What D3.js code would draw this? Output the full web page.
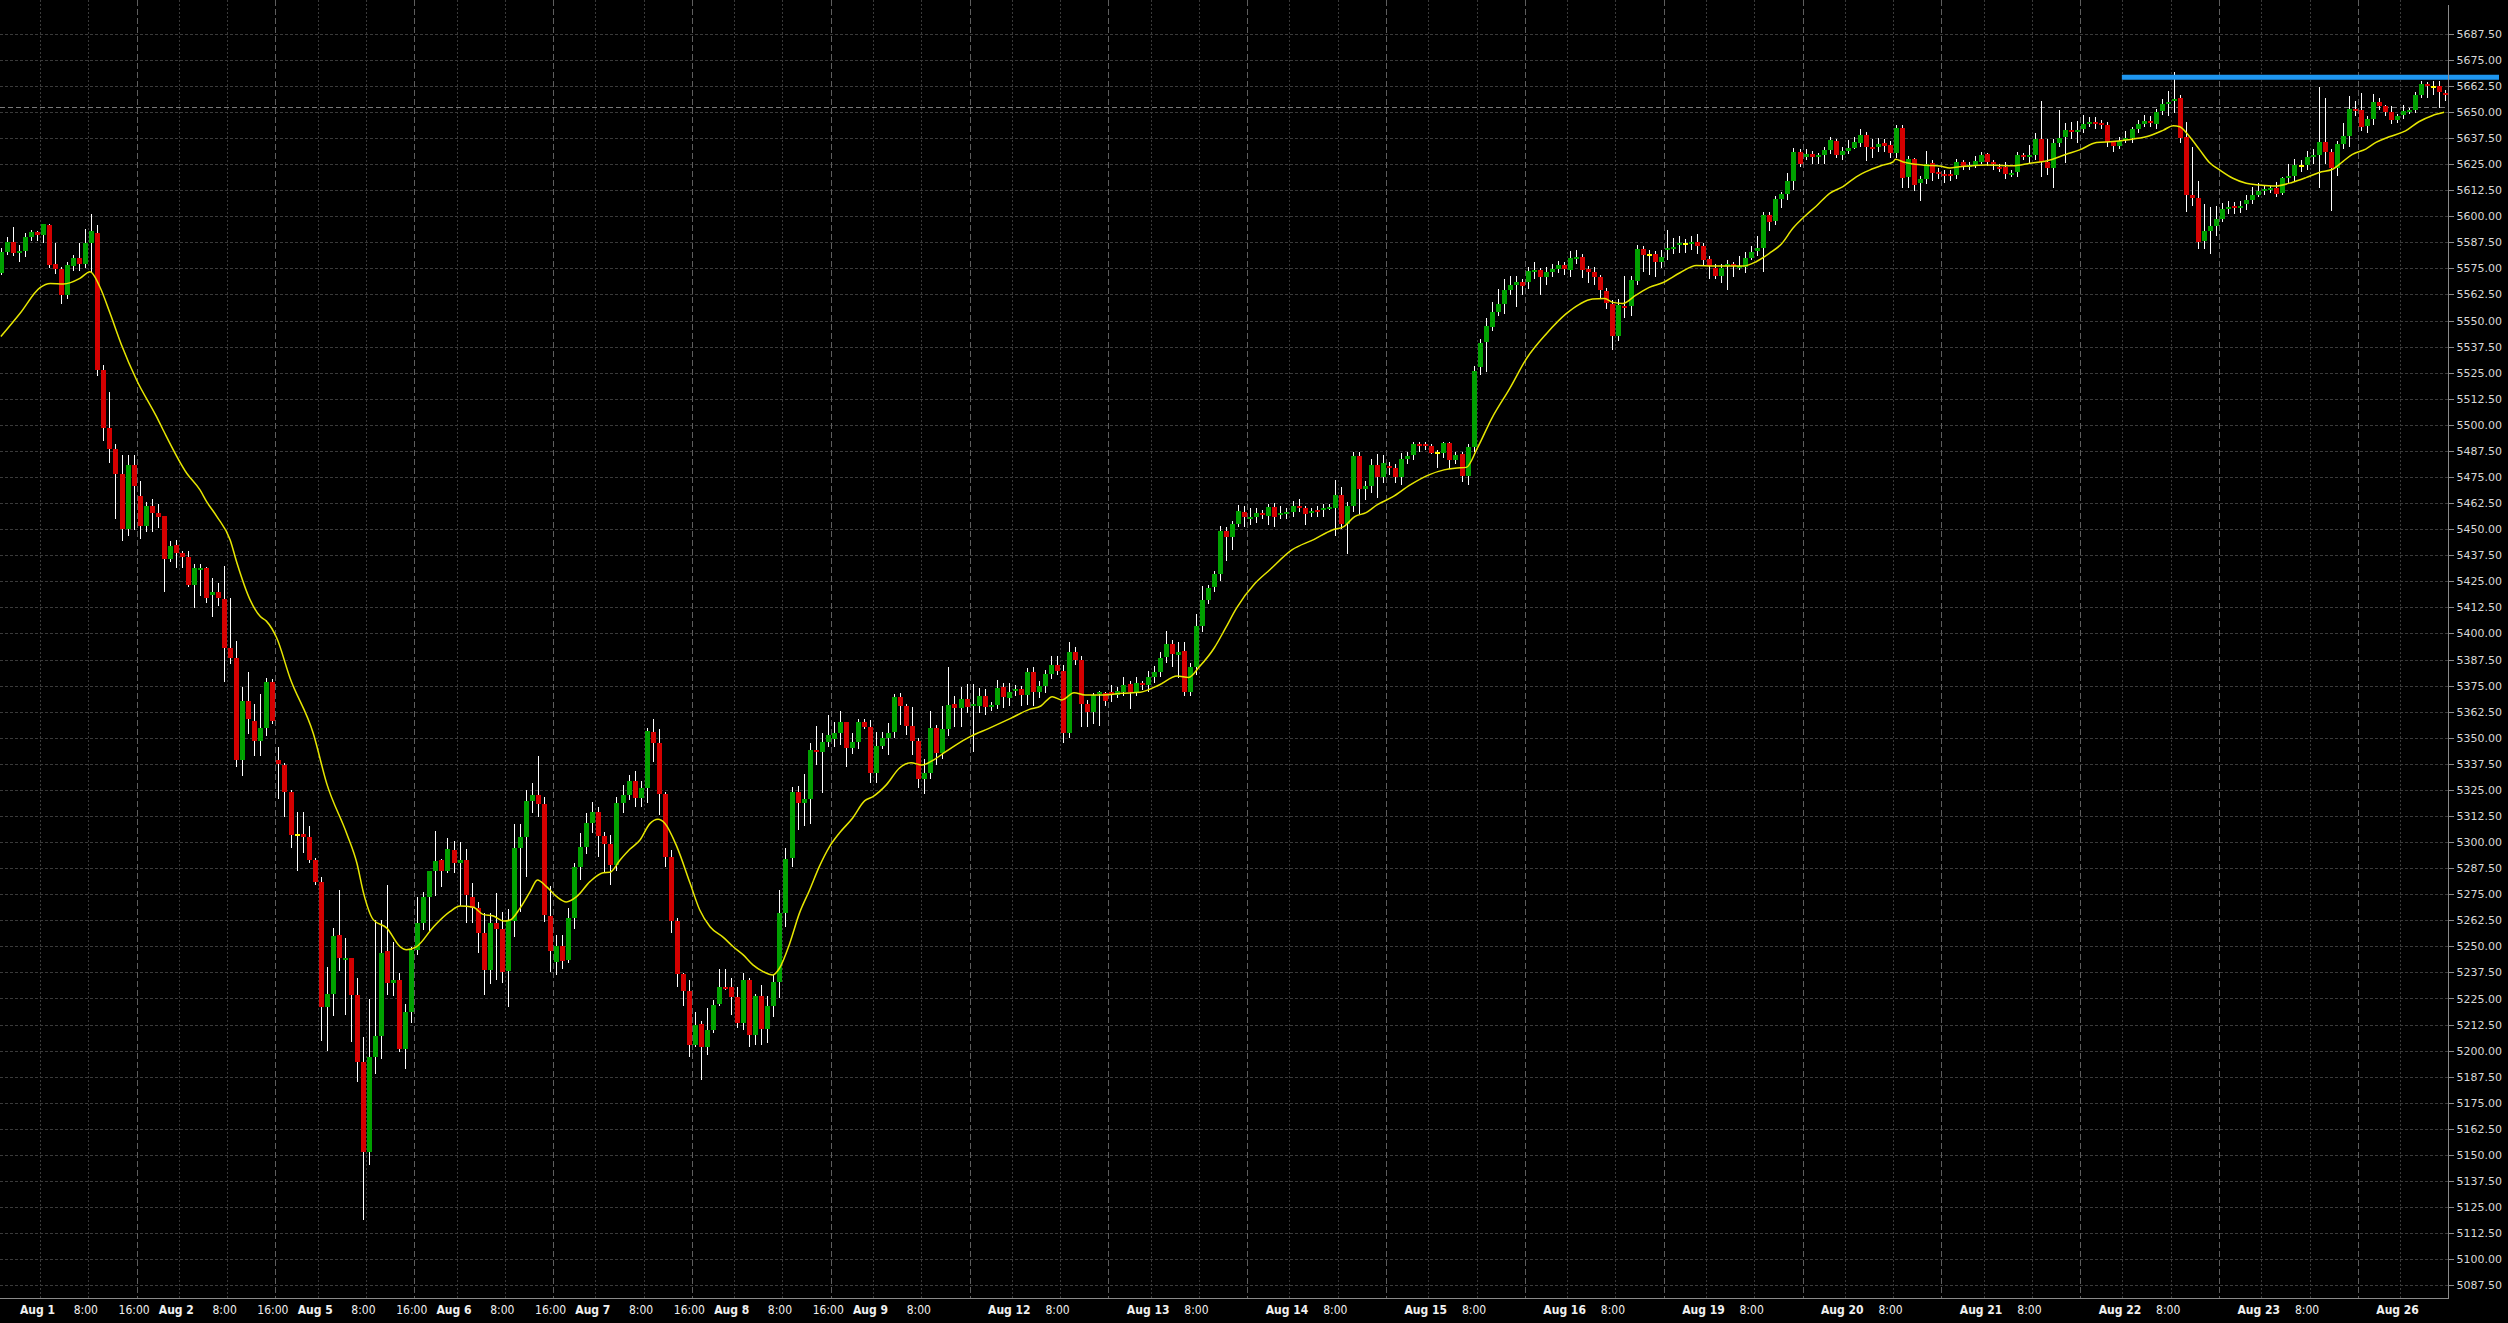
<!DOCTYPE html>
<html><head><meta charset="utf-8">
<script src="https://cdn.jsdelivr.net/npm/d3@7"></script>
<style>
html,body{margin:0;padding:0;background:#000;overflow:hidden}
svg{display:block}
.xl{font-family:"DejaVu Sans Condensed","DejaVu Sans",sans-serif;font-stretch:condensed;font-size:12px}
.yl{font-family:"DejaVu Sans",Verdana,sans-serif;font-size:11px}
</style>
</head><body>
<svg id="c" width="2508" height="1323"></svg>
<script>
// ---------- DATA (hourly candles, Jul 31 18:00 -> Aug 26 8:00) ----------
const open=[
5572.9,5583.0,5587.6,5582.5,5583.3,5590.2,5592.6,5591.2,5595.8,5577.1,
5574.7,5562.3,5576.3,5580.1,5577.1,5587.3,5592.1,5526.3,5498.6,5488.4,
5476.4,5450.1,5480.7,5465.9,5451.7,5461.1,5457.6,5456.3,5435.7,5442.4,
5438.4,5436.5,5423.4,5430.6,5431.3,5418.6,5419.9,5416.4,5393.1,5388.4,
5339.1,5367.7,5358.2,5348.3,5354.7,5376.6,5339.1,5336.9,5323.8,5303.5,
5303.8,5302.5,5291.4,5280.9,5220.8,5227.2,5255.5,5243.3,5244.3,5226.9,
5194.4,5151.5,5197.0,5207.1,5247.9,5232.6,5233.8,5200.9,5218.7,5248.3,
5261.3,5273.8,5286.1,5291.4,5286.1,5296.2,5289.8,5291.4,5273.8,5268.2,
5256.6,5238.7,5261.3,5258.3,5238.2,5262.1,5297.3,5302.6,5319.8,5322.6,
5318.2,5264.5,5242.7,5250.2,5243.5,5263.4,5288.2,5297.8,5309.3,5314.6,
5302.9,5299.1,5289.0,5318.9,5322.6,5329.4,5321.3,5325.8,5352.9,5347.6,
5323.0,5293.0,5262.3,5236.8,5228.6,5202.7,5212.8,5201.9,5209.9,5222.4,
5230.7,5230.7,5225.9,5213.4,5233.9,5207.5,5226.2,5210.2,5221.4,5233.1,
5265.8,5292.2,5324.2,5318.9,5320.5,5344.1,5343.3,5348.1,5349.2,5352.1,
5357.6,5344.9,5348.1,5357.6,5355.0,5333.3,5346.0,5349.7,5352.9,5369.4,
5365.2,5355.6,5348.6,5330.0,5333.0,5354.5,5342.8,5354.0,5366.2,5364.1,
5368.4,5365.2,5365.2,5370.0,5364.6,5365.7,5374.2,5368.9,5372.4,5373.2,
5370.5,5381.4,5372.1,5374.8,5380.6,5384.9,5382.2,5352.4,5391.3,5387.3,
5366.2,5362.5,5371.3,5371.3,5372.1,5370.5,5372.1,5375.8,5371.6,5376.1,
5375.3,5379.0,5381.4,5388.9,5394.9,5389.8,5391.6,5372.1,5384.1,5403.6,
5416.0,5422.1,5428.5,5449.1,5446.1,5452.5,5458.4,5455.2,5456.0,5457.6,
5456.3,5460.5,5456.8,5457.6,5458.4,5461.1,5460.0,5457.6,5459.2,5459.2,
5460.0,5460.3,5466.4,5452.5,5461.1,5485.1,5469.1,5470.7,5480.8,5474.8,
5480.3,5479.2,5474.8,5483.6,5485.5,5490.8,5490.8,5489.9,5486.3,5486.7,
5491.1,5483.1,5486.0,5475.5,5489.5,5527.9,5539.8,5547.0,5554.2,5557.9,
5564.6,5567.0,5568.6,5568.6,5573.4,5574.2,5571.0,5573.4,5574.7,5576.6,
5574.2,5579.8,5580.3,5574.7,5573.1,5571.0,5564.1,5557.9,5542.7,5556.9,
5556.9,5569.0,5584.3,5581.4,5581.9,5578.2,5584.1,5584.4,5586.0,5586.7,
5587.0,5587.8,5585.7,5579.3,5575.3,5571.5,5576.3,5577.1,5575.8,5575.8,
5580.1,5583.3,5584.9,5600.6,5597.9,5608.2,5610.6,5617.0,5630.9,5628.2,
5629.8,5628.5,5629.3,5631.7,5636.0,5629.3,5631.4,5632.9,5635.2,5638.9,
5633.0,5633.0,5634.9,5634.1,5630.5,5642.4,5619.0,5627.3,5615.8,5617.8,
5625.3,5621.3,5620.2,5620.2,5619.7,5626.1,5623.7,5624.5,5626.1,5629.8,
5626.1,5623.7,5623.8,5620.1,5621.0,5629.4,5628.6,5629.4,5637.0,5625.8,
5623.0,5634.9,5638.0,5641.2,5640.4,5641.8,5644.4,5645.0,5644.9,5643.7,
5635.4,5633.7,5636.7,5637.3,5641.8,5644.1,5645.7,5644.2,5650.5,5653.7,
5655.6,5656.7,5638.1,5610.2,5608.9,5588.1,5592.9,5595.3,5598.7,5603.5,
5604.9,5604.1,5605.7,5607.8,5610.2,5612.3,5612.7,5613.4,5611.3,5618.6,
5619.3,5624.2,5624.6,5628.6,5629.4,5635.4,5630.6,5623.3,5634.5,5638.6,
5651.4,5650.9,5643.3,5646.6,5654.8,5652.8,5650.1,5646.1,5648.5,5650.1,
5650.9,5658.1,5663.4,5662.1,5662.6,5658.9];
const high=[
5584.6,5589.9,5594.7,5586.2,5591.8,5593.4,5592.8,5596.5,5596.5,5587.3,
5575.8,5578.2,5581.4,5587.3,5593.7,5601.1,5595.8,5528.7,5515.6,5490.6,
5485.5,5485.5,5485.5,5473.1,5463.2,5464.4,5462.0,5456.3,5444.3,5444.8,
5439.7,5439.3,5433.5,5433.5,5432.0,5426.5,5424.0,5432.3,5417.0,5396.3,
5374.1,5381.4,5366.1,5370.9,5378.8,5378.2,5345.4,5338.1,5324.8,5314.6,
5314.6,5307.6,5292.4,5283.4,5239.9,5258.7,5277.1,5253.9,5244.3,5234.8,
5206.5,5224.6,5262.8,5262.8,5279.3,5252.3,5237.3,5222.4,5249.9,5273.8,
5276.0,5286.1,5305.3,5291.7,5302.1,5300.5,5299.9,5296.7,5280.2,5271.4,
5265.8,5265.8,5275.7,5266.3,5267.9,5308.5,5308.5,5324.9,5328.2,5341.3,
5321.8,5278.9,5255.4,5255.4,5268.2,5290.1,5304.2,5313.8,5319.4,5316.6,
5305.0,5303.4,5321.8,5327.3,5332.1,5334.1,5329.4,5354.5,5359.0,5354.0,
5324.2,5296.2,5263.4,5237.1,5233.9,5218.7,5214.4,5220.3,5224.3,5239.0,
5239.0,5234.7,5230.7,5237.1,5234.7,5227.0,5231.5,5226.2,5236.3,5277.0,
5297.0,5326.2,5326.9,5332.6,5347.6,5355.6,5352.4,5360.9,5357.7,5362.8,
5357.6,5352.1,5358.8,5358.8,5358.5,5352.9,5352.9,5356.9,5371.0,5371.3,
5366.0,5364.9,5350.0,5340.0,5363.0,5356.0,5365.0,5384.0,5370.0,5374.5,
5375.8,5375.8,5374.0,5373.5,5367.3,5377.6,5376.0,5376.0,5375.4,5375.0,
5383.5,5384.0,5377.0,5382.7,5389.0,5389.0,5385.0,5396.0,5393.5,5389.0,
5368.0,5371.5,5372.5,5372.0,5375.5,5374.5,5379.3,5377.0,5379.0,5377.0,
5382.0,5384.6,5391.0,5401.2,5397.0,5396.0,5396.0,5386.0,5409.1,5422.7,
5423.1,5429.7,5451.5,5451.0,5454.0,5461.4,5461.0,5460.0,5460.2,5459.0,
5462.1,5462.5,5461.0,5460.0,5463.7,5464.3,5461.0,5460.0,5461.0,5462.0,
5462.0,5473.5,5470.0,5463.0,5486.9,5487.2,5473.0,5483.5,5486.0,5485.4,
5482.0,5481.0,5486.5,5487.0,5491.9,5492.0,5492.0,5491.0,5488.0,5492.0,
5492.0,5487.0,5487.0,5491.0,5528.0,5541.0,5551.0,5558.7,5565.0,5570.0,
5571.4,5571.3,5570.0,5575.6,5578.0,5575.0,5575.5,5577.0,5578.5,5578.0,
5583.1,5583.6,5582.0,5576.0,5575.5,5572.0,5565.5,5560.0,5560.4,5571.4,
5571.4,5586.2,5585.6,5584.0,5583.5,5583.7,5593.3,5589.5,5590.5,5589.3,
5590.5,5591.5,5587.0,5581.0,5577.0,5577.0,5579.0,5578.0,5580.9,5583.0,
5585.5,5590.5,5602.2,5602.0,5609.5,5611.5,5620.5,5632.5,5632.0,5632.0,
5631.5,5630.5,5633.0,5638.0,5637.0,5633.0,5636.5,5638.0,5641.8,5640.5,
5637.0,5637.3,5637.0,5636.0,5643.6,5643.6,5629.0,5628.0,5619.5,5631.5,
5627.0,5623.0,5622.0,5622.0,5627.3,5627.0,5626.0,5629.0,5630.6,5630.5,
5627.0,5625.0,5626.0,5622.0,5631.0,5630.5,5634.0,5640.0,5655.2,5637.0,
5637.0,5651.0,5644.5,5645.0,5645.5,5648.5,5647.5,5647.5,5646.0,5645.0,
5635.5,5638.0,5641.0,5643.0,5646.0,5648.5,5648.0,5651.5,5656.0,5660.2,
5669.3,5658.3,5645.0,5633.4,5616.8,5606.0,5604.3,5604.9,5606.3,5607.3,
5607.0,5607.5,5610.4,5613.8,5616.0,5615.0,5614.5,5616.5,5619.0,5624.9,
5627.3,5627.0,5631.5,5632.0,5662.1,5656.5,5632.0,5636.0,5644.5,5657.4,
5655.0,5659.2,5648.0,5658.5,5656.5,5653.5,5652.7,5649.0,5653.5,5652.0,
5659.5,5664.6,5664.5,5664.6,5664.6,5660.5];
const low=[
5572.0,5581.4,5581.0,5578.2,5580.3,5588.3,5588.3,5587.3,5575.0,5572.3,
5557.9,5560.1,5573.9,5573.9,5575.0,5573.4,5523.4,5492.4,5481.9,5454.9,
5444.5,5446.9,5449.6,5445.3,5448.8,5448.8,5450.4,5420.0,5434.1,5431.2,
5431.2,5422.4,5412.2,5418.0,5414.8,5408.0,5413.2,5376.6,5385.2,5335.9,
5331.8,5351.8,5341.3,5341.3,5350.9,5356.6,5320.6,5312.0,5297.1,5286.0,
5294.6,5289.8,5279.6,5204.6,5199.8,5216.7,5238.3,5217.3,5204.0,5184.9,
5119.0,5145.1,5188.7,5196.0,5226.9,5226.3,5199.3,5191.3,5213.1,5246.0,
5257.8,5257.0,5274.1,5278.6,5285.0,5285.0,5269.3,5261.3,5261.3,5246.6,
5226.7,5231.9,5233.9,5232.6,5220.8,5254.3,5266.6,5283.4,5313.8,5311.9,
5261.8,5237.5,5236.3,5239.0,5241.9,5258.2,5281.8,5294.1,5304.2,5293.0,
5285.0,5279.4,5286.1,5313.8,5320.2,5316.6,5316.6,5318.9,5338.5,5313.0,
5288.2,5256.2,5230.4,5221.6,5196.8,5201.9,5185.9,5197.9,5208.3,5221.4,
5229.1,5217.1,5210.7,5209.9,5201.9,5202.7,5202.7,5203.5,5216.3,5225.1,
5259.1,5287.9,5305.8,5307.7,5308.7,5336.9,5323.4,5345.4,5345.7,5346.5,
5336.1,5342.2,5344.4,5354.0,5328.2,5328.5,5344.5,5341.7,5350.0,5356.1,
5351.3,5341.7,5326.0,5323.0,5330.0,5337.0,5340.0,5351.0,5355.0,5355.0,
5361.7,5343.3,5362.0,5361.0,5363.0,5364.0,5364.4,5365.0,5370.0,5365.0,
5365.7,5365.0,5369.0,5371.5,5378.0,5380.0,5347.7,5349.8,5385.0,5355.0,
5355.0,5356.6,5355.6,5365.0,5367.0,5369.0,5370.0,5363.8,5370.0,5373.0,
5372.0,5376.0,5379.0,5386.0,5384.0,5378.7,5369.8,5369.8,5380.0,5400.9,
5414.0,5420.0,5425.2,5434.7,5440.0,5451.0,5451.0,5452.0,5453.0,5454.7,
5451.8,5451.0,5455.0,5455.0,5456.0,5458.0,5451.8,5456.0,5456.0,5456.0,
5459.0,5446.8,5450.0,5438.3,5458.0,5457.3,5464.0,5467.3,5464.7,5472.0,
5476.0,5472.0,5471.0,5481.0,5483.0,5487.0,5488.0,5486.0,5479.2,5484.0,
5479.0,5481.0,5472.4,5471.2,5487.0,5524.0,5525.5,5545.0,5552.0,5553.0,
5562.0,5556.6,5562.0,5565.0,5570.0,5562.0,5567.0,5571.0,5573.0,5572.0,
5571.0,5577.0,5570.2,5568.0,5567.0,5561.0,5555.6,5536.0,5540.0,5551.3,
5552.0,5567.0,5573.4,5572.0,5570.9,5575.0,5579.0,5582.0,5582.3,5582.3,
5584.0,5582.0,5575.9,5570.0,5569.9,5568.0,5564.6,5570.9,5574.0,5573.0,
5579.0,5581.0,5573.4,5592.9,5596.0,5604.0,5608.0,5612.5,5623.6,5627.0,
5625.0,5625.0,5625.0,5630.0,5628.0,5627.0,5630.0,5632.0,5633.0,5626.6,
5628.0,5631.0,5631.0,5628.0,5628.0,5613.5,5613.5,5612.0,5607.4,5615.5,
5617.0,5618.0,5616.0,5617.0,5618.0,5622.0,5622.0,5623.0,5625.0,5624.0,
5622.0,5621.0,5618.0,5619.0,5619.0,5627.0,5625.0,5627.0,5619.0,5620.0,
5613.3,5633.0,5625.5,5637.0,5635.0,5640.0,5643.0,5642.0,5642.0,5633.0,
5630.8,5632.0,5635.0,5635.0,5640.0,5643.0,5643.0,5642.0,5648.5,5648.0,
5649.4,5635.0,5602.2,5605.0,5584.1,5584.4,5582.0,5590.5,5597.0,5601.0,
5601.0,5601.5,5603.0,5606.0,5609.0,5610.0,5611.0,5609.0,5610.0,5615.3,
5617.0,5621.0,5622.0,5625.0,5613.4,5625.0,5602.5,5619.5,5632.0,5633.0,
5648.0,5641.0,5640.0,5643.5,5651.0,5648.0,5644.1,5644.5,5646.5,5649.0,
5649.5,5656.6,5656.6,5658.0,5652.1,5655.0];
const close=[
5583.0,5587.6,5582.5,5583.3,5590.0,5592.6,5590.8,5596.3,5576.6,5574.5,
5562.3,5576.6,5580.1,5577.1,5587.3,5592.9,5526.3,5498.6,5488.4,5476.4,
5450.1,5480.7,5470.8,5451.7,5461.1,5457.6,5456.0,5435.7,5441.9,5438.4,
5436.5,5423.4,5431.3,5431.6,5417.0,5419.9,5417.0,5393.1,5388.4,5339.1,
5367.7,5358.8,5348.3,5354.7,5376.6,5358.2,5337.5,5323.8,5303.5,5303.5,
5302.5,5291.4,5280.9,5220.8,5227.2,5254.8,5244.3,5244.3,5226.9,5194.4,
5151.5,5197.0,5207.1,5246.9,5232.6,5233.8,5200.9,5218.7,5248.3,5261.0,
5273.8,5286.1,5290.9,5286.1,5296.7,5289.8,5291.4,5274.6,5268.2,5256.6,
5238.7,5261.3,5258.3,5237.9,5262.1,5297.3,5302.6,5319.8,5322.6,5318.2,
5265.0,5247.9,5250.2,5243.1,5263.4,5288.2,5297.8,5309.0,5314.6,5302.9,
5299.1,5289.0,5318.9,5322.6,5329.4,5321.3,5325.8,5353.2,5347.6,5323.0,
5293.0,5262.3,5236.8,5228.6,5202.7,5212.3,5201.9,5209.9,5221.9,5230.7,
5229.9,5225.6,5213.4,5233.9,5207.5,5226.2,5210.2,5221.4,5233.1,5265.8,
5291.9,5324.2,5318.9,5320.5,5344.1,5343.3,5348.1,5351.3,5352.1,5357.6,
5344.9,5348.1,5357.6,5355.3,5333.3,5346.0,5349.7,5352.1,5369.4,5365.2,
5355.6,5348.6,5330.0,5333.0,5354.5,5342.8,5354.0,5365.7,5364.1,5368.4,
5364.9,5366.0,5370.0,5364.9,5365.7,5373.7,5369.4,5372.1,5373.2,5370.5,
5381.4,5372.1,5374.8,5380.6,5384.9,5382.2,5352.4,5391.3,5387.3,5366.2,
5362.5,5370.5,5371.9,5367.8,5370.5,5372.6,5375.3,5372.1,5376.1,5375.3,
5379.3,5381.7,5388.4,5394.9,5390.1,5391.1,5372.1,5384.1,5403.6,5416.0,
5421.6,5428.5,5449.1,5446.1,5452.5,5458.7,5455.7,5456.0,5457.6,5456.8,
5460.8,5456.0,5457.9,5458.4,5461.1,5460.0,5457.3,5458.9,5458.4,5460.3,
5460.8,5466.4,5452.5,5461.1,5485.1,5469.1,5470.7,5480.8,5474.8,5481.6,
5479.2,5474.8,5483.6,5485.1,5490.8,5490.0,5490.0,5486.7,5486.3,5491.1,
5483.1,5485.5,5475.5,5489.5,5525.7,5539.4,5547.4,5554.2,5557.9,5564.6,
5567.0,5568.6,5566.7,5573.7,5574.2,5571.0,5573.1,5574.7,5576.6,5574.7,
5580.1,5580.6,5574.2,5573.4,5571.0,5564.6,5558.2,5542.7,5557.4,5556.1,
5569.4,5584.3,5581.4,5581.4,5578.2,5580.6,5584.9,5585.2,5587.3,5586.7,
5587.8,5585.7,5579.0,5576.3,5571.5,5575.0,5577.1,5576.3,5576.3,5580.0,
5582.8,5584.9,5600.6,5597.4,5608.2,5610.6,5617.0,5630.9,5625.0,5629.8,
5628.2,5629.3,5631.7,5636.5,5629.3,5631.4,5632.9,5635.7,5638.9,5633.3,
5632.2,5634.6,5633.9,5630.5,5642.4,5618.5,5627.3,5615.0,5617.8,5624.9,
5620.9,5620.5,5619.4,5619.4,5626.1,5623.7,5624.5,5626.6,5629.3,5626.1,
5625.0,5622.9,5620.4,5620.9,5629.4,5628.6,5629.4,5637.0,5626.2,5623.0,
5634.9,5637.7,5641.2,5640.5,5641.2,5644.2,5645.0,5644.4,5644.1,5635.4,
5633.8,5636.2,5637.7,5641.8,5644.1,5645.7,5644.7,5650.1,5653.8,5654.9,
5656.4,5637.7,5610.2,5608.9,5587.8,5592.9,5595.3,5598.7,5603.5,5604.4,
5604.1,5605.1,5607.8,5610.2,5612.1,5613.1,5613.7,5610.7,5618.3,5619.3,
5624.6,5624.2,5628.6,5629.4,5635.4,5630.9,5623.0,5634.5,5638.6,5651.4,
5650.6,5642.9,5646.6,5654.8,5652.8,5650.1,5646.1,5648.2,5650.6,5650.9,
5658.1,5663.4,5662.6,5662.1,5659.4,5658.1];

// moving average: candle position -> value
const maIdx=[0,3.2,6.5,8.2,10.4,13.1,14.8,16.4,18.1,20.0,22.5,25.8,26.9,30.8,33.0,34.1,35.8,38.0,39.1,41.3,43.0,44.0,45.7,47.9,51.8,54.0,57.3,59.0,60.1,61.7,64.0,66.1,67.2,68.9,71.7,74.4,76.1,78.3,79.9,81.6,83.3,84.4,86.0,87.7,88.9,90.4,92.1,93.7,95.4,97.6,99.8,100.9,102.6,104.2,105.9,107.5,108.9,110.0,112.0,114.2,115.8,117.5,119.7,121.3,123.0,124.6,126.3,127.9,129.0,130.7,132.3,134.0,135.6,137.3,138.9,141.1,143.1,144.5,146.7,148.9,150.8,152.6,154.5,156.3,158.2,160.6,163.7,167.3,170.4,172.3,174.2,175.8,177.8,179.6,182.7,185.7,188.8,191.9,194.9,196.8,198.6,201.0,202.9,204.7,207.8,210.2,213.9,217.6,220.6,222.5,224.3,226.2,228.0,230.5,233.5,236.6,239.1,240.9,242.8,244.6,247.0,250.0,252.8,256.1,259.4,261.6,263.7,265.7,267.1,268.7,270.9,273.1,275.3,278.2,280.9,283.7,286.4,288.6,290.8,293.0,295.0,296.9,299.1,300.8,303.0,305.2,307.4,309.6,311.8,313.5,313.9,315.2,316.8,319.0,321.2,322.9,324.5,326.7,328.9,331.2,333.4,336.2,338.9,342.2,344.4,347.2,349.9,353.3,356.0,358.3,359.9,361.0,362.6,364.3,365.9,367.6,369.8,372.0,374.2,376.9,379.7,381.9,384.1,386.3,388.0,389.6,391.8,393.5,395.7,398.4,400.6,402.8,404.8];
const maVal=[5542.3,5553.5,5565.8,5567.8,5567.5,5570.2,5573.4,5566.2,5553.5,5538.3,5521.5,5503.9,5497.5,5476.8,5468.8,5463.2,5456.0,5444.8,5434.0,5416.1,5408.1,5405.9,5397.9,5378.8,5351.8,5328.0,5304.1,5289.8,5275.5,5262.8,5258.6,5250.0,5248.4,5249.9,5259.4,5266.6,5269.3,5268.7,5265.3,5264.5,5262.1,5262.6,5268.2,5276.2,5281.8,5278.6,5273.8,5271.3,5273.8,5281.0,5285.3,5285.5,5291.4,5296.5,5301.0,5308.7,5310.9,5309.0,5297.8,5280.2,5267.4,5259.4,5254.3,5249.9,5245.9,5241.1,5237.9,5236.3,5239.5,5251.4,5265.8,5277.0,5288.2,5297.8,5304.2,5311.4,5319.7,5321.8,5327.4,5335.5,5338.0,5336.9,5339.3,5342.8,5346.5,5350.5,5354.5,5359.3,5363.6,5365.2,5369.7,5368.1,5371.6,5370.5,5370.5,5371.3,5371.8,5375.3,5379.6,5378.9,5384.1,5392.9,5402.5,5412.0,5424.0,5430.4,5440.0,5445.1,5449.6,5451.2,5456.0,5457.9,5461.6,5465.3,5471.2,5476.0,5478.4,5479.2,5479.6,5488.7,5503.0,5517.5,5531.9,5543.8,5553.4,5557.9,5560.3,5560.5,5558.7,5558.2,5562.2,5565.9,5568.1,5572.9,5576.4,5576.1,5576.1,5576.1,5578.2,5582.2,5586.7,5594.2,5600.6,5604.9,5611.0,5614.2,5618.9,5622.1,5624.5,5626.1,5627.3,5626.0,5625.0,5624.4,5624.1,5623.1,5623.7,5624.2,5624.5,5624.3,5624.2,5625.4,5626.5,5629.7,5631.8,5635.3,5635.8,5637.0,5638.6,5641.3,5643.4,5642.9,5638.2,5631.8,5625.8,5622.2,5618.2,5615.8,5615.0,5614.5,5616.3,5618.5,5621.0,5622.5,5626.2,5629.7,5632.2,5635.4,5638.1,5640.9,5645.3,5648.2,5649.8];

// time axis labels (candle position -> label)
const tickIdx=[6,14,22,29,37,45,52,60,68,75,83,91,98,106,114,121,129,137,144,152,167,175,190,198,213,221,236,244,259,267,282,290,305,313,328,336,351,359,374,382,397];
const tickText=["Aug 1","8:00","16:00","Aug 2","8:00","16:00","Aug 5","8:00","16:00","Aug 6","8:00","16:00","Aug 7","8:00","16:00","Aug 8","8:00","16:00","Aug 9","8:00","Aug 12","8:00","Aug 13","8:00","Aug 14","8:00","Aug 15","8:00","Aug 16","8:00","Aug 19","8:00","Aug 20","8:00","Aug 21","8:00","Aug 22","8:00","Aug 23","8:00","Aug 26"];
// session boundaries (16:00 candles) drawn as stronger grid lines
const sessionIdx=[22,45,68,91,114,137,160,183,206,229,252,275,298,321,344,367,390];
// price axis ticks
const yTicks=[5087.5,5100,5112.5,5125,5137.5,5150,5162.5,5175,5187.5,5200,5212.5,5225,5237.5,5250,5262.5,5275,5287.5,5300,5312.5,5325,5337.5,5350,5362.5,5375,5387.5,5400,5412.5,5425,5437.5,5450,5462.5,5475,5487.5,5500,5512.5,5525,5537.5,5550,5562.5,5575,5587.5,5600,5612.5,5625,5637.5,5650,5662.5,5675,5687.5];
// reference levels
const refPrice=5652.5;          // dashed price line
const levelPrice=5666.6;        // blue horizontal level
const levelStartIdx=351.4;

// ---------- LAYOUT ----------
const W=2508,H=1323, plotR=2448, plotB=1298;
const svg=d3.select("#c");
svg.append("rect").attr("width",W).attr("height",H).attr("fill","#000");

const n=open.length;
const xs=d3.scaleLinear().domain([0,n-1]).range([0.8,0.8+6.036*(n-1)]);
const ys=d3.scaleLinear().domain([5087.5,5687.5]).range([1285.3,33.7]);

svg.append("defs").append("clipPath").attr("id","clip")
  .append("rect").attr("x",0).attr("y",0).attr("width",plotR).attr("height",plotB);

const grid=svg.append("g").attr("shape-rendering","crispEdges");
// horizontal grid
grid.selectAll("line.h").data(yTicks).join("line").attr("class","h")
  .attr("x1",0).attr("x2",plotR)
  .attr("y1",d=>Math.round(ys(d))+0.5).attr("y2",d=>Math.round(ys(d))+0.5)
  .attr("stroke","#3a3a3a").attr("stroke-dasharray","3,2");
// vertical grid
const fineIdx=tickIdx.filter(d=>!sessionIdx.includes(d));
const gx=d=>Math.round(xs(d))+3.5;
grid.selectAll("line.v").data(fineIdx).join("line").attr("class","v")
  .attr("x1",gx).attr("x2",gx).attr("y1",0).attr("y2",plotB)
  .attr("stroke","#3a3a3a").attr("stroke-dasharray","2,2");
grid.selectAll("line.s").data(sessionIdx).join("line").attr("class","s")
  .attr("x1",gx).attr("x2",gx).attr("y1",0).attr("y2",plotB)
  .attr("stroke","#5e5e5e").attr("stroke-dasharray","6,3");

// reference dashed price line
svg.append("line").attr("x1",0).attr("x2",plotR)
  .attr("y1",Math.round(ys(refPrice))+0.5).attr("y2",Math.round(ys(refPrice))+0.5)
  .attr("stroke","#7a7a7a").attr("stroke-dasharray","5,3").attr("shape-rendering","crispEdges");

// candles
const idx=d3.range(n);
const cg=svg.append("g").attr("clip-path","url(#clip)").attr("shape-rendering","crispEdges");
const cx=i=>Math.round(xs(i));
cg.selectAll("rect.w").data(idx).join("rect").attr("class","w")
  .attr("x",i=>cx(i)).attr("width",1)
  .attr("y",i=>Math.round(ys(high[i])))
  .attr("height",i=>Math.max(1,Math.round(ys(low[i]))-Math.round(ys(high[i]))))
  .attr("fill","#ffffff");
const col=i=>close[i]>open[i]?"#00a000":(close[i]<open[i]?"#d40000":"#ffff00");
cg.selectAll("rect.b").data(idx).join("rect").attr("class","b")
  .attr("x",i=>cx(i)-2).attr("width",5)
  .attr("y",i=>{const t=Math.round(ys(Math.max(open[i],close[i]))),b=Math.round(ys(Math.min(open[i],close[i])));return b-t<2?Math.round((t+b)/2)-1:t;})
  .attr("height",i=>{const t=Math.round(ys(Math.max(open[i],close[i]))),b=Math.round(ys(Math.min(open[i],close[i])));return Math.max(2,b-t);})
  .attr("fill",col);

// moving average
const maPts=maIdx.map((d,k)=>[d,maVal[k]]);
svg.append("path").attr("clip-path","url(#clip)").datum(maPts)
  .attr("d",d3.line().x(d=>xs(d[0])).y(d=>ys(d[1])).curve(d3.curveMonotoneX))
  .attr("fill","none").attr("stroke","#e6e600").attr("stroke-width",1.5);

// blue level line
svg.append("line").attr("x1",xs(levelStartIdx)).attr("x2",2499)
  .attr("y1",ys(levelPrice)).attr("y2",ys(levelPrice))
  .attr("stroke","#1e96f0").attr("stroke-width",5);

// axes
const yAxis=d3.axisRight(ys).tickValues(yTicks).tickSize(5).tickPadding(3).tickFormat(d3.format(".2f"));
const ya=svg.append("g").attr("transform",`translate(${plotR+0.5},0)`).call(yAxis);
ya.select(".domain").remove();
ya.selectAll("line").attr("stroke","#8a8a8a").attr("shape-rendering","crispEdges");
ya.selectAll("text").attr("class","yl").attr("fill","#d8d8d8").attr("font-family",null).attr("font-size",null);

const xAxis=d3.axisBottom(xs).tickValues(tickIdx).tickSize(0).tickPadding(7).tickFormat((d,k)=>tickText[k]);
const xa=svg.append("g").attr("transform",`translate(0,${plotB})`).call(xAxis);
xa.select(".domain").remove();
xa.selectAll("text").attr("class","xl").attr("fill","#f0f0f0")
  .attr("font-family",null).attr("font-size",null)
  .attr("font-weight",(d,k)=>tickText[k].startsWith("Aug")?"bold":"normal");

// frame lines
svg.append("line").attr("x1",plotR+0.5).attr("x2",plotR+0.5).attr("y1",5).attr("y2",plotB+1)
  .attr("stroke","#8a8a8a").attr("shape-rendering","crispEdges");
svg.append("line").attr("x1",0).attr("x2",plotR+1).attr("y1",plotB+0.5).attr("y2",plotB+0.5)
  .attr("stroke","#8a8a8a").attr("shape-rendering","crispEdges");
</script>
</body></html>
